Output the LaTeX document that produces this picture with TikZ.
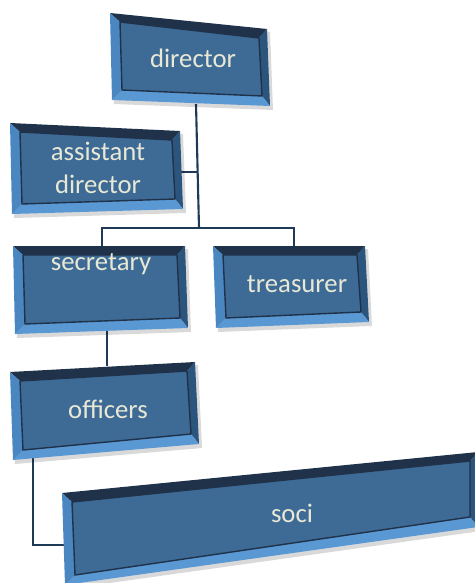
\documentclass[tikz,border=0pt]{standalone}
\usepackage{fontspec}
\setmainfont{Carlito}
\usetikzlibrary{calc}

\definecolor{faccia}{HTML}{3E6B95}
\definecolor{bordoscuro}{HTML}{1F3249}
\definecolor{bordodestro}{HTML}{2C557E}
\definecolor{bordochiaro}{HTML}{5A98D4}
\definecolor{bordosin}{HTML}{4A86C0}
\definecolor{linea}{HTML}{1E3A58}
\definecolor{testo}{HTML}{E8E8D6}

\tikzset{
  etichetta/.style={text=testo, font=\fontsize{19}{23}\selectfont, align=center, inner sep=0pt},
  collegamento/.style={draw=linea, line width=1.5pt},
}

% scatola in rilievo: nome, angoli (alto sx, alto dx, basso dx, basso sx)
\newcommand{\scatola}[5]{%
  \coordinate (#1-a) at #2;
  \coordinate (#1-b) at #3;
  \coordinate (#1-c) at #4;
  \coordinate (#1-d) at #5;
  \coordinate (#1-ia) at ($(#1-a)+(10,9)$);
  \coordinate (#1-ib) at ($(#1-b)+(-8,9)$);
  \coordinate (#1-ic) at ($(#1-c)+(-8,-10)$);
  \coordinate (#1-id) at ($(#1-d)+(10,-10)$);
  % ombra
  \fill[black, opacity=0.15] ($(#1-a)+(2,3)$) -- ($(#1-b)+(3,3)$)
    -- ($(#1-c)+(3,4)$) -- ($(#1-d)+(2,4)$) -- cycle;
  % bordi
  \fill[bordoscuro] (#1-a) -- (#1-b) -- (#1-ib) -- (#1-ia) -- cycle;
  \fill[bordodestro] (#1-b) -- (#1-c) -- (#1-ic) -- (#1-ib) -- cycle;
  \fill[bordochiaro] (#1-c) -- (#1-d) -- (#1-id) -- (#1-ic) -- cycle;
  \fill[bordosin] (#1-d) -- (#1-a) -- (#1-ia) -- (#1-id) -- cycle;
  % faccia
  \filldraw[fill=faccia, draw=bordoscuro, line width=1pt]
    (#1-ia) -- (#1-ib) -- (#1-ic) -- (#1-id) -- cycle;
}

\begin{document}
\begin{tikzpicture}[x=0.025cm, y=-0.025cm]

    \useasboundingbox (0,0) rectangle (474,583);

    % Punti dei collegamenti
    \coordinate (D) at (196,104);
    \coordinate (T) at (199,228);
    \coordinate (R) at (198,172);
    \coordinate (Ra) at (181,172);
    \coordinate (S1) at (102,228);
    \coordinate (S2) at (102,247);
    \coordinate (Q1) at (294,228);
    \coordinate (Q2) at (294,247);
    \coordinate (O1) at (107,330);
    \coordinate (O2) at (107,366);
    \coordinate (P1) at (33,458);
    \coordinate (P2) at (33,545);
    \coordinate (P3) at (64,545);

    % Linee
    \draw[collegamento] (D) -- (T);
    \draw[collegamento] (Ra) -- (R);
    \draw[collegamento] (S2) -- (S1) -- (Q1) -- (Q2);
    \draw[collegamento] (O1) -- (O2);
    \draw[collegamento] (P1) -- (P2) -- (P3);

    % Scatole
    \scatola{dir}{(110,13)}{(267,29)}{(270,106)}{(112,100)}
    \scatola{ass}{(10,123)}{(180,131)}{(183,209)}{(12,214)}
    \scatola{seg}{(13,246)}{(185,246)}{(188,328)}{(15,334)}
    \scatola{tes}{(213,246)}{(365,246)}{(369,322)}{(216,328)}
    \scatola{uff}{(10,372)}{(195,362)}{(199,444)}{(13,460)}
    \scatola{soc}{(62,493)}{(478,452)}{(478,527)}{(65,585)}

    % Etichette
    \node[etichetta] (direttore) at (193,58) {director};
    \node[etichetta] (assistente) at (98,168) {assistant\\director};
    \node[etichetta] (segretario) at (101,264) {secretary};
    \node[etichetta] (tesoriere) at (297,284) {treasurer};
    \node[etichetta] (ufficiali) at (108,409) {officers};
    \node[etichetta] (soci) at (292,513) {soci};

\end{tikzpicture}
\end{document}
